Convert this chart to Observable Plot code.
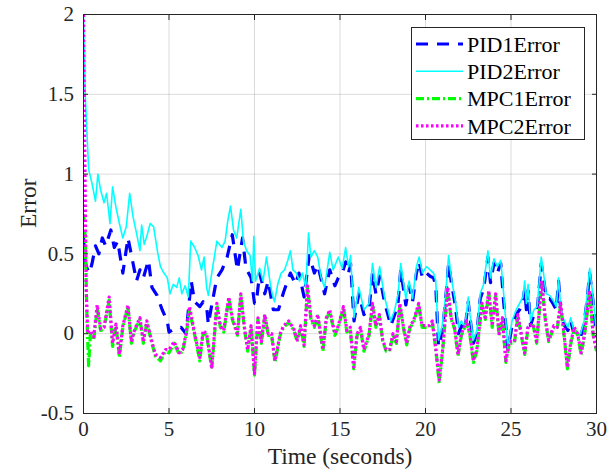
<!DOCTYPE html>
<html><head><meta charset="utf-8">
<script src="https://cdn.jsdelivr.net/npm/d3@7"></script>
<script src="https://cdn.jsdelivr.net/npm/@observablehq/plot@0.6"></script>
<style>body{margin:0;background:#fff;} #chart{width:614px;height:476px;}</style>
</head><body><div id="chart"></div>
<script>
// ---- data: [time (s), error] ----
const pid1Error = [[0,0.6],[0.1,0.45],[0.2,0.41],[0.35,0.38],[0.5,0.44],[0.7,0.55],[0.9,0.5],[1.1,0.6],[1.3,0.55],[1.6,0.65],[1.8,0.54],[2.0,0.58],[2.3,0.38],[2.6,0.6],[2.9,0.44],[3.1,0.33],[3.3,0.4],[3.5,0.35],[3.8,0.46],[4.0,0.29],[4.3,0.24],[4.6,0.15],[4.9,0.08],[5.0,0.01],[5.3,0.03],[5.7,0.04],[6.0,0.0],[6.3,0.33],[6.5,0.2],[6.8,0.17],[7.0,0.2],[7.2,0.17],[7.3,0.06],[7.5,0.18],[7.8,0.35],[8.1,0.4],[8.4,0.48],[8.7,0.62],[9.0,0.4],[9.3,0.6],[9.5,0.41],[9.8,0.35],[10.0,0.19],[10.1,0.19],[10.3,0.38],[10.6,0.25],[10.8,0.33],[11.1,0.15],[11.4,0.15],[11.7,0.26],[12.1,0.38],[12.4,0.31],[12.6,0.38],[12.9,0.23],[13.2,0.49],[13.5,0.38],[13.7,0.43],[14.1,0.25],[14.4,0.4],[14.7,0.3],[14.9,0.35],[15.13,0.38],[15.33,0.45],[15.5,0.38],[15.62,0.44],[15.82,0.08],[16.1,0.25],[16.4,0.12],[16.7,0.15],[16.9,0.38],[17.1,0.25],[17.32,0.36],[17.6,0.2],[17.8,0.12],[17.97,0.05],[18.2,0.12],[18.4,0.2],[18.55,0.4],[18.85,0.18],[19.04,0.3],[19.24,0.2],[19.47,0.38],[19.63,0.45],[19.82,0.35],[20.06,0.38],[20.27,0.36],[20.47,0.35],[20.6,0.3],[20.76,-0.08],[20.96,0.0],[21.15,0.18],[21.35,0.44],[21.54,0.3],[21.74,0.18],[21.93,0.0],[22.1,0.05],[22.3,0.02],[22.5,0.2],[22.6,0.1],[22.8,-0.06],[23.0,0.0],[23.2,0.22],[23.4,0.28],[23.65,0.48],[23.8,0.32],[24.0,0.44],[24.2,0.38],[24.4,0.44],[24.57,0.2],[24.82,-0.1],[25.06,0.05],[25.3,0.12],[25.5,0.15],[25.7,0.2],[25.8,0.28],[25.9,0.15],[26.0,0.27],[26.14,0.05],[26.34,0.12],[26.53,0.14],[26.77,0.44],[26.9,0.35],[27.06,0.22],[27.26,0.22],[27.45,0.19],[27.65,0.15],[27.78,0.33],[27.94,0.1],[28.13,0.05],[28.33,0.02],[28.49,0.08],[28.68,0.0],[28.88,-0.02],[29.07,-0.02],[29.27,0.06],[29.46,0.22],[29.6,0.38],[29.8,0.2],[30.0,-0.02]];

const pid2Error = [[0,2.0],[0.1,1.5],[0.3,1.03],[0.5,0.94],[0.7,0.83],[0.84,1.0],[1.0,0.9],[1.2,0.82],[1.35,0.88],[1.55,0.69],[1.7,0.92],[1.9,0.79],[2.1,0.69],[2.3,0.6],[2.5,0.67],[2.7,0.88],[2.9,0.73],[3.1,0.63],[3.3,0.52],[3.4,0.68],[3.55,0.56],[3.7,0.61],[3.9,0.69],[4.1,0.67],[4.35,0.5],[4.5,0.42],[4.7,0.38],[4.9,0.35],[5.06,0.25],[5.25,0.31],[5.45,0.29],[5.6,0.35],[5.75,0.25],[5.94,0.3],[6.13,0.23],[6.27,0.58],[6.5,0.54],[6.7,0.49],[6.9,0.4],[7.05,0.48],[7.2,0.29],[7.3,0.24],[7.5,0.38],[7.8,0.58],[8.1,0.54],[8.28,0.58],[8.44,0.71],[8.6,0.8],[8.77,0.65],[8.96,0.6],[9.2,0.78],[9.35,0.58],[9.54,0.52],[9.74,0.49],[9.88,0.33],[9.96,0.61],[10.06,0.33],[10.3,0.41],[10.5,0.33],[10.7,0.48],[10.9,0.33],[11.03,0.25],[11.17,0.2],[11.36,0.31],[11.56,0.38],[11.76,0.4],[11.95,0.46],[12.1,0.52],[12.25,0.4],[12.45,0.38],[12.63,0.33],[12.8,0.38],[13.0,0.29],[13.16,0.63],[13.3,0.48],[13.5,0.52],[13.7,0.48],[13.9,0.35],[14.1,0.29],[14.4,0.51],[14.6,0.4],[14.9,0.48],[15.13,0.41],[15.33,0.54],[15.5,0.42],[15.62,0.49],[15.82,0.1],[16.1,0.29],[16.4,0.15],[16.7,0.19],[16.9,0.44],[17.1,0.29],[17.32,0.42],[17.6,0.23],[17.8,0.15],[17.97,0.08],[18.2,0.15],[18.4,0.25],[18.55,0.44],[18.85,0.22],[19.04,0.33],[19.24,0.22],[19.47,0.42],[19.63,0.48],[19.82,0.38],[20.06,0.42],[20.27,0.4],[20.47,0.38],[20.6,0.33],[20.76,-0.04],[20.96,0.04],[21.15,0.21],[21.35,0.49],[21.54,0.33],[21.74,0.21],[21.93,0.04],[22.1,0.08],[22.3,0.04],[22.5,0.23],[22.6,0.12],[22.8,-0.04],[23.0,0.02],[23.2,0.25],[23.4,0.31],[23.65,0.52],[23.8,0.35],[24.0,0.47],[24.2,0.42],[24.4,0.46],[24.57,0.25],[24.82,-0.09],[25.06,0.08],[25.3,0.15],[25.5,0.19],[25.7,0.23],[25.8,0.33],[25.9,0.19],[26.0,0.31],[26.14,0.08],[26.34,0.15],[26.53,0.17],[26.77,0.48],[26.9,0.38],[27.06,0.25],[27.26,0.24],[27.45,0.21],[27.65,0.17],[27.78,0.35],[27.94,0.12],[28.13,0.08],[28.33,0.04],[28.49,0.1],[28.68,0.02],[28.88,0.0],[29.07,0.0],[29.27,0.08],[29.46,0.25],[29.6,0.41],[29.8,0.23],[30.0,0.0]];

const mpc1Error = [[0,0.75],[0.1,0.6],[0.2,0.1],[0.3,-0.2],[0.4,0.0],[0.6,-0.04],[0.8,0.16],[1.0,0.02],[1.2,0.03],[1.5,0.21],[1.7,-0.08],[1.9,0.05],[2.1,-0.15],[2.3,0.04],[2.6,0.17],[2.8,-0.06],[3.0,0.02],[3.3,0.09],[3.5,-0.06],[3.7,0.07],[4.0,-0.06],[4.2,-0.14],[4.5,-0.17],[4.8,-0.11],[5.0,-0.12],[5.3,-0.06],[5.6,-0.13],[5.8,-0.11],[6.0,-0.01],[6.2,0.15],[6.5,-0.01],[6.8,-0.17],[7.0,0.01],[7.2,-0.01],[7.5,-0.22],[7.8,0.18],[8.0,0.04],[8.2,0.01],[8.5,0.22],[8.7,0.09],[9.0,-0.01],[9.2,0.24],[9.4,0.04],[9.6,-0.11],[9.8,0.04],[10.0,-0.26],[10.2,0.09],[10.4,-0.06],[10.6,0.11],[10.8,-0.01],[11.0,-0.01],[11.2,-0.18],[11.5,-0.01],[11.7,0.04],[12.0,0.07],[12.3,0.02],[12.5,-0.05],[12.7,0.04],[12.9,-0.08],[13.1,0.29],[13.3,0.09],[13.5,0.04],[13.7,0.11],[14.0,-0.11],[14.2,0.09],[14.4,0.14],[14.7,-0.01],[14.9,0.04],[15.2,0.16],[15.4,0.01],[15.6,0.03],[15.8,-0.22],[16.0,-0.01],[16.2,0.03],[16.4,-0.11],[16.7,-0.01],[16.9,0.18],[17.1,0.04],[17.3,0.11],[17.5,-0.05],[17.7,-0.11],[17.9,-0.11],[18.1,-0.01],[18.3,-0.06],[18.5,0.18],[18.7,0.04],[18.9,-0.07],[19.1,0.04],[19.3,0.07],[19.6,0.18],[19.8,0.04],[20.0,0.04],[20.2,0.04],[20.4,0.07],[20.6,-0.1],[20.8,-0.31],[21.0,-0.11],[21.3,0.28],[21.5,0.09],[21.7,0.03],[21.9,-0.14],[22.1,-0.01],[22.4,0.07],[22.6,-0.01],[22.8,-0.18],[23.0,-0.11],[23.3,0.18],[23.5,0.09],[23.7,0.26],[23.9,0.04],[24.1,0.24],[24.3,-0.01],[24.5,0.09],[24.7,-0.18],[24.9,-0.06],[25.2,-0.06],[25.4,0.11],[25.6,-0.01],[25.8,-0.13],[26.0,0.04],[26.3,0.05],[26.5,-0.06],[26.8,0.32],[27.0,0.09],[27.2,-0.05],[27.5,0.04],[27.7,0.03],[27.9,0.18],[28.1,-0.01],[28.3,-0.22],[28.5,-0.06],[28.7,0.03],[28.9,-0.01],[29.1,-0.13],[29.3,-0.01],[29.6,0.26],[29.8,-0.01],[30.0,-0.11]];

const mpc2Error = [[0,2.0],[0.15,0.3],[0.25,0.0],[0.4,0.02],[0.6,-0.02],[0.8,0.18],[1.0,0.03],[1.2,0.04],[1.5,0.23],[1.7,-0.06],[1.9,0.06],[2.1,-0.13],[2.3,0.05],[2.6,0.18],[2.8,-0.05],[3.0,0.03],[3.3,0.1],[3.5,-0.05],[3.7,0.08],[4.0,-0.05],[4.2,-0.13],[4.5,-0.15],[4.8,-0.1],[5.0,-0.1],[5.3,-0.05],[5.6,-0.12],[5.8,-0.1],[6.0,0.0],[6.2,0.17],[6.5,0.0],[6.8,-0.15],[7.0,0.02],[7.2,0.0],[7.5,-0.21],[7.8,0.19],[8.0,0.05],[8.2,0.02],[8.5,0.23],[8.7,0.1],[9.0,0.0],[9.2,0.25],[9.4,0.05],[9.6,-0.1],[9.8,0.05],[10.0,-0.25],[10.2,0.1],[10.4,-0.05],[10.6,0.12],[10.8,0.0],[11.0,0.0],[11.2,-0.17],[11.5,0.0],[11.7,0.05],[12.0,0.08],[12.3,0.03],[12.5,-0.04],[12.7,0.05],[12.9,-0.07],[13.1,0.3],[13.3,0.1],[13.5,0.05],[13.7,0.12],[14.0,-0.1],[14.2,0.1],[14.4,0.15],[14.7,0.0],[14.9,0.05],[15.2,0.17],[15.4,0.02],[15.6,0.04],[15.8,-0.21],[16.0,0.0],[16.2,0.04],[16.4,-0.1],[16.7,0.0],[16.9,0.19],[17.1,0.05],[17.3,0.12],[17.5,-0.04],[17.7,-0.1],[17.9,-0.1],[18.1,0.0],[18.3,-0.05],[18.5,0.19],[18.7,0.05],[18.9,-0.06],[19.1,0.05],[19.3,0.08],[19.6,0.19],[19.8,0.05],[20.0,0.05],[20.2,0.05],[20.4,0.08],[20.6,-0.09],[20.8,-0.29],[21.0,-0.1],[21.3,0.29],[21.5,0.1],[21.7,0.04],[21.9,-0.13],[22.1,0.0],[22.4,0.08],[22.6,0.0],[22.8,-0.17],[23.0,-0.1],[23.3,0.19],[23.5,0.1],[23.7,0.27],[23.9,0.05],[24.1,0.25],[24.3,0.0],[24.5,0.1],[24.7,-0.17],[24.9,-0.05],[25.2,-0.05],[25.4,0.12],[25.6,0.0],[25.8,-0.12],[26.0,0.05],[26.3,0.06],[26.5,-0.05],[26.8,0.33],[27.0,0.1],[27.2,-0.04],[27.5,0.05],[27.7,0.04],[27.9,0.19],[28.1,0.0],[28.3,-0.21],[28.5,-0.05],[28.7,0.04],[28.9,0.0],[29.1,-0.12],[29.3,0.0],[29.6,0.27],[29.8,0.0],[30.0,-0.1]];

const seriesNames = ["PID1Error", "PID2Error", "MPC1Error", "MPC2Error"];
const xTicks = [0, 5, 10, 15, 20, 25, 30];
const yTicks = [-0.5, 0, 0.5, 1, 1.5, 2];
const xLabel = "Time (seconds)";
const yLabel = "Error";

// ---- styles ----
const styles = [
  {stroke: "#0000ff", strokeWidth: 3.2, strokeDasharray: "12,9"},
  {stroke: "#00ffff", strokeWidth: 1.6, strokeDasharray: null},
  {stroke: "#00ff00", strokeWidth: 3.2, strokeDasharray: "8,3,2,3"},
  {stroke: "#ff00ff", strokeWidth: 3.2, strokeDasharray: "2.5,2.5"}
];
const seriesData = [pid1Error, pid2Error, mpc1Error, mpc2Error];
const font = "Liberation Serif, Times New Roman, serif";
const axisColor = "#262626";
const tickFont = 21;
const labelFont = 23.5;

const lineMarks = seriesData.map((d, i) => Plot.line(d, {
  x: r => r[0], y: r => r[1], clip: true,
  stroke: styles[i].stroke, strokeWidth: styles[i].strokeWidth,
  strokeDasharray: styles[i].strokeDasharray, strokeLinejoin: "round", strokeLinecap: "butt"
}));

const plot = Plot.plot({
  width: 614, height: 476,
  marginLeft: 83, marginRight: 18, marginTop: 14, marginBottom: 63,
  style: {fontFamily: font, fontSize: "21px", color: axisColor, background: "#fff"},
  x: {domain: [0, 30]},
  y: {domain: [-0.5, 2]},
  marks: [
    Plot.gridX(xTicks, {stroke: "#000", strokeOpacity: 0.14}),
    Plot.gridY(yTicks, {stroke: "#000", strokeOpacity: 0.14}),
    ...lineMarks,
    Plot.frame({stroke: axisColor, strokeWidth: 1}),
    // inward tick marks on all four sides
    Plot.axisX(xTicks, {anchor: "bottom", tickSize: -5, tickFormat: () => "", label: null, stroke: axisColor}),
    Plot.axisX(xTicks, {anchor: "top", tickSize: -5, tickFormat: () => "", label: null, stroke: axisColor}),
    Plot.axisY(yTicks, {anchor: "left", tickSize: -5, tickFormat: () => "", label: null, stroke: axisColor}),
    Plot.axisY(yTicks, {anchor: "right", tickSize: -5, tickFormat: () => "", label: null, stroke: axisColor}),
    // tick labels (serif, like the reference)
    Plot.text(xTicks, {x: d => d, frameAnchor: "bottom", dy: 22, text: d => String(d),
      fontFamily: font, fontSize: tickFont, fill: axisColor, textAnchor: "middle"}),
    Plot.text(yTicks, {y: d => d, frameAnchor: "left", dx: -9.5, text: d => String(d),
      fontFamily: font, fontSize: tickFont, fill: axisColor, textAnchor: "end"}),
    Plot.text([xLabel], {frameAnchor: "bottom", dy: 50.5, text: d => d, fontFamily: font, fontSize: labelFont, fill: axisColor}),
    Plot.text([yLabel], {frameAnchor: "left", dx: -55, dy: 14, rotate: -90, text: d => d, fontFamily: font, fontSize: labelFont, fill: axisColor})
  ]
});

// ---- legend (inside the axes, top-right) ----
const svg = d3.select(plot);
const lg = svg.append("g").attr("font-family", font).attr("font-size", 22).attr("text-anchor", "start");
lg.append("rect").attr("x", 411.5).attr("y", 27.5).attr("width", 173).attr("height", 112)
  .attr("fill", "#fff").attr("stroke", axisColor).attr("stroke-width", 1);
seriesNames.forEach((name, i) => {
  const y = 44 + i * 27.3;
  lg.append("line").attr("x1", 416).attr("x2", 463).attr("y1", y).attr("y2", y)
    .attr("stroke", styles[i].stroke).attr("stroke-width", styles[i].strokeWidth)
    .attr("stroke-dasharray", styles[i].strokeDasharray);
  lg.append("text").attr("x", 467).attr("y", y).attr("dy", "0.35em")
    .attr("text-anchor", "start").attr("fill", "#000").text(name);
});

document.getElementById("chart").appendChild(plot);
</script>
</body></html>
